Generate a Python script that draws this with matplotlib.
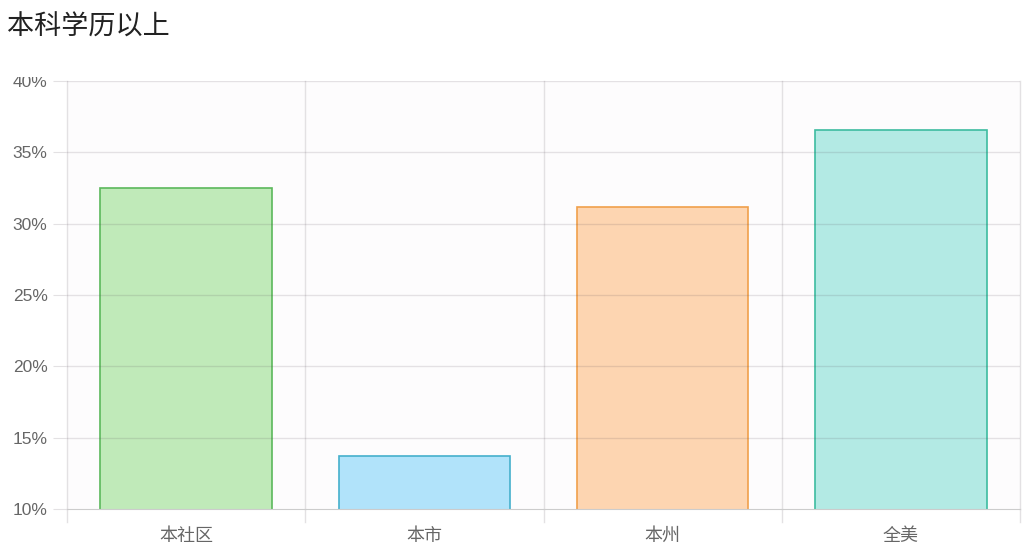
import matplotlib
matplotlib.use('Agg')
import matplotlib.pyplot as plt
from matplotlib.patches import Rectangle
from matplotlib.ticker import FuncFormatter, MultipleLocator

plt.rcParams['font.family'] = ['Noto Sans CJK SC', 'DejaVu Sans']

# data
categories = ['本社区', '本市', '本州', '全美']
values = [32.5, 13.7, 31.2, 36.6]
fill_colors = ['#c0eab9', '#b1e3fa', '#fdd5b1', '#b3eae4']
edge_colors = ['#5cb85c', '#45b0cc', '#f0a04b', '#3dbca0']

W, H = 1023, 559
fig = plt.figure(figsize=(W / 100, H / 100), dpi=100)
fig.patch.set_facecolor('white')

# plot area in pixels: x 67..1020, y 81..509
ax = fig.add_axes([67 / W, (H - 509) / H, (1020 - 67) / W, (509 - 81) / H])
ax.set_facecolor('#fdfcfd')

x = range(len(categories))
ax.bar(x, values, width=0.72, bottom=0, color=fill_colors, edgecolor=edge_colors,
       linewidth=1.2, zorder=2)

ax.set_xlim(-0.5, len(categories) - 0.5)
ax.set_ylim(10, 40)
ax.yaxis.set_major_locator(MultipleLocator(5))
ax.yaxis.set_major_formatter(FuncFormatter(lambda v, p: f'{v:.0f}%'))

# grid: horizontal at y ticks (faintly over the bars), vertical at category boundaries
grid_c = (0.35, 0.3, 0.35, 0.15)
for yv in range(15, 41, 5):
    ax.axhline(yv, color=grid_c, linewidth=1, zorder=3)
for b in range(len(categories) + 1):
    ax.plot([b - 0.5, b - 0.5], [10, 40], color='#e3e1e3', linewidth=1, zorder=1, clip_on=False)
    ax.plot([b - 0.5, b - 0.5], [10, 10 - 13 / 14.27], color='#e3e1e3', linewidth=1, clip_on=False)

ax.set_xticks(list(x))
ax.set_xticklabels(categories)
ax.tick_params(axis='x', length=0, pad=13, labelsize=13, labelcolor='#666666')
ax.tick_params(axis='y', length=10, color='#e3e1e3', pad=4, labelsize=12.5, labelcolor='#666666')
for lbl in ax.get_yticklabels():
    lbl.set_family(['Liberation Sans', 'DejaVu Sans'])

for s in ['top', 'right', 'left']:
    ax.spines[s].set_visible(False)
ax.spines['bottom'].set_color('#cccccc')
ax.spines['bottom'].set_zorder(4)

# white band above the plot (the top label is cut off in the original)
fig.add_artist(Rectangle((0, (H - 77) / H), 1, 77 / H, transform=fig.transFigure,
                         facecolor='white', edgecolor='none', zorder=5))
fig.text(7 / W, 1 - 27 / H, '本科学历以上', fontsize=19.5, color='#222222',
         va='center', ha='left', zorder=6)

fig.savefig('out.png', dpi=100)
